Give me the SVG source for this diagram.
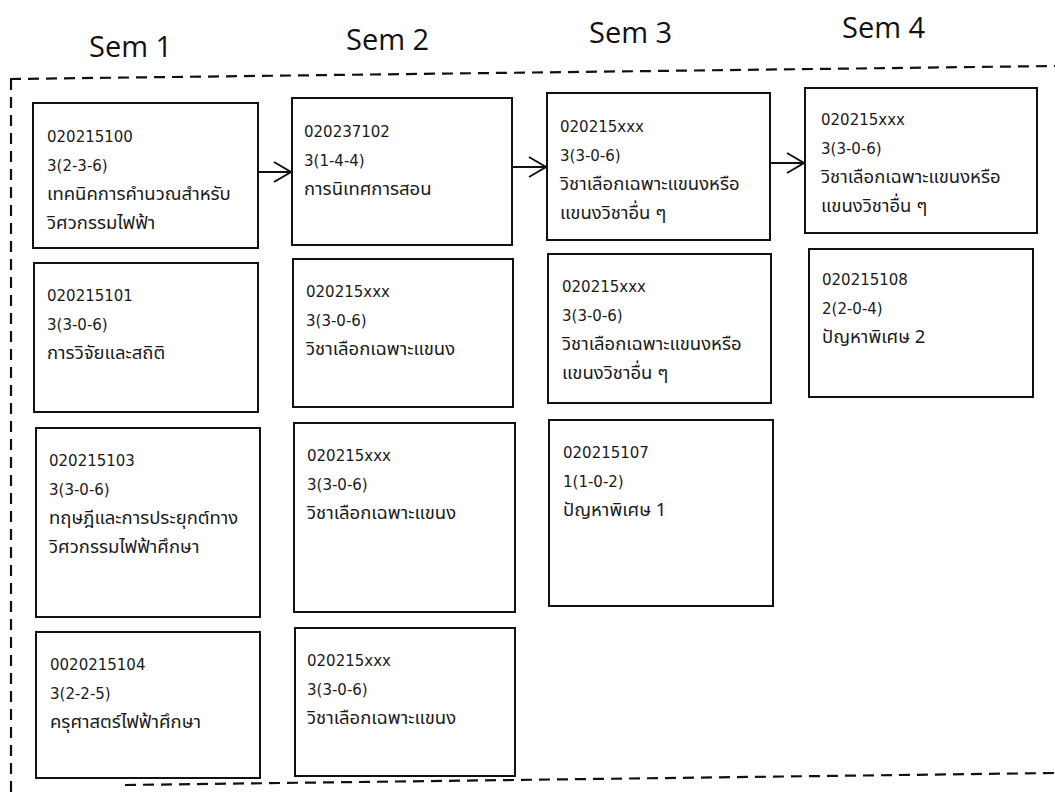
<svg xmlns="http://www.w3.org/2000/svg" width="1055" height="796" viewBox="0 0 1055 796">
<style>
.box{fill:#fff;stroke:#111;stroke-width:2}
.t{font-family:"DejaVu Sans","Noto Sans Thai",Tahoma,sans-serif;font-size:15px;fill:#1a1a1a}
.th{font-family:"Noto Sans Thai",Tahoma,"DejaVu Sans",sans-serif;font-size:18.5px;fill:#1a1a1a}
.hd{font-family:"Open Sans","DejaVu Sans",sans-serif;font-size:29px;fill:#111}
.frame{fill:none;stroke:#111;stroke-width:2.2;stroke-dasharray:11 7}
.conn{fill:none;stroke:#111;stroke-width:2}
</style>
<defs>
<marker id="arr" markerUnits="userSpaceOnUse" markerWidth="20" markerHeight="24" refX="18" refY="11" orient="auto">
<path d="M1,1 L18,11 L1,21" fill="none" stroke="#111" stroke-width="2"/>
</marker>
</defs>
<rect width="1055" height="796" fill="#fff"/>
<g id="headers">
<text class="hd" x="89" y="57">Sem 1</text>
<text class="hd" x="346" y="50">Sem 2</text>
<text class="hd" x="589" y="43">Sem 3</text>
<text class="hd" x="842" y="38">Sem 4</text>
</g>
<g id="frame">
<path class="frame" d="M10,79 L1055,66"/>
<path class="frame" d="M11,79 L11,792"/>
<path class="frame" d="M125,785 L1055,773"/>
</g>
<g id="c1b1"><rect class="box" x="33" y="103" width="225" height="145"/>
<text class="t" x="47" y="142">020215100</text><text class="t" x="47" y="171">3(2-3-6)</text><text class="th" x="47" y="200">เทคนิคการคำนวณสำหรับ</text><text class="th" x="47" y="229">วิศวกรรมไฟฟ้า</text></g>
<g id="c1b2"><rect class="box" x="34" y="263" width="224" height="149"/>
<text class="t" x="47" y="301">020215101</text><text class="t" x="47" y="330">3(3-0-6)</text><text class="th" x="47" y="359">การวิจัยและสถิติ</text></g>
<g id="c1b3"><rect class="box" x="36" y="428" width="224" height="189"/>
<text class="t" x="49" y="466">020215103</text><text class="t" x="49" y="495">3(3-0-6)</text><text class="th" x="49" y="524">ทฤษฎีและการประยุกต์ทาง</text><text class="th" x="49" y="553">วิศวกรรมไฟฟ้าศึกษา</text></g>
<g id="c1b4"><rect class="box" x="36" y="632" width="224" height="146"/>
<text class="t" x="50" y="670">0020215104</text><text class="t" x="50" y="699">3(2-2-5)</text><text class="th" x="50" y="728">ครุศาสตร์ไฟฟ้าศึกษา</text></g>
<g id="c2b1"><rect class="box" x="292" y="98" width="220" height="147"/>
<text class="t" x="304" y="137">020237102</text><text class="t" x="304" y="166">3(1-4-4)</text><text class="th" x="304" y="195">การนิเทศการสอน</text></g>
<g id="c2b2"><rect class="box" x="293" y="259" width="220" height="148"/>
<text class="t" x="306" y="297">020215xxx</text><text class="t" x="306" y="326">3(3-0-6)</text><text class="th" x="306" y="355">วิชาเลือกเฉพาะแขนง</text></g>
<g id="c2b3"><rect class="box" x="294" y="423" width="221" height="189"/>
<text class="t" x="307" y="461">020215xxx</text><text class="t" x="307" y="490">3(3-0-6)</text><text class="th" x="307" y="519">วิชาเลือกเฉพาะแขนง</text></g>
<g id="c2b4"><rect class="box" x="295" y="628" width="220" height="148"/>
<text class="t" x="307" y="666">020215xxx</text><text class="t" x="307" y="695">3(3-0-6)</text><text class="th" x="307" y="724">วิชาเลือกเฉพาะแขนง</text></g>
<g id="c3b1"><rect class="box" x="547" y="93" width="223" height="147"/>
<text class="t" x="560" y="132">020215xxx</text><text class="t" x="560" y="161">3(3-0-6)</text><text class="th" x="560" y="190">วิชาเลือกเฉพาะแขนงหรือ</text><text class="th" x="560" y="219">แขนงวิชาอื่น ๆ</text></g>
<g id="c3b2"><rect class="box" x="548" y="254" width="223" height="149"/>
<text class="t" x="562" y="292">020215xxx</text><text class="t" x="562" y="321">3(3-0-6)</text><text class="th" x="562" y="350">วิชาเลือกเฉพาะแขนงหรือ</text><text class="th" x="562" y="379">แขนงวิชาอื่น ๆ</text></g>
<g id="c3b3"><rect class="box" x="549" y="420" width="224" height="186"/>
<text class="t" x="563" y="458">020215107</text><text class="t" x="563" y="487">1(1-0-2)</text><text class="th" x="563" y="516">ปัญหาพิเศษ 1</text></g>
<g id="c4b1"><rect class="box" x="805" y="88" width="232" height="145"/>
<text class="t" x="821" y="125">020215xxx</text><text class="t" x="821" y="154">3(3-0-6)</text><text class="th" x="821" y="183">วิชาเลือกเฉพาะแขนงหรือ</text><text class="th" x="821" y="212">แขนงวิชาอื่น ๆ</text></g>
<g id="c4b2"><rect class="box" x="809" y="249" width="224" height="148"/>
<text class="t" x="822" y="285">020215108</text><text class="t" x="822" y="314">2(2-0-4)</text><text class="th" x="822" y="343">ปัญหาพิเศษ 2</text></g>
<g id="connectors">
<path class="conn" d="M258,172 L291,172" marker-end="url(#arr)"/>
<path class="conn" d="M512,167 L546,167" marker-end="url(#arr)"/>
<path class="conn" d="M770,163 L804,163" marker-end="url(#arr)"/>
</g>
</svg>
